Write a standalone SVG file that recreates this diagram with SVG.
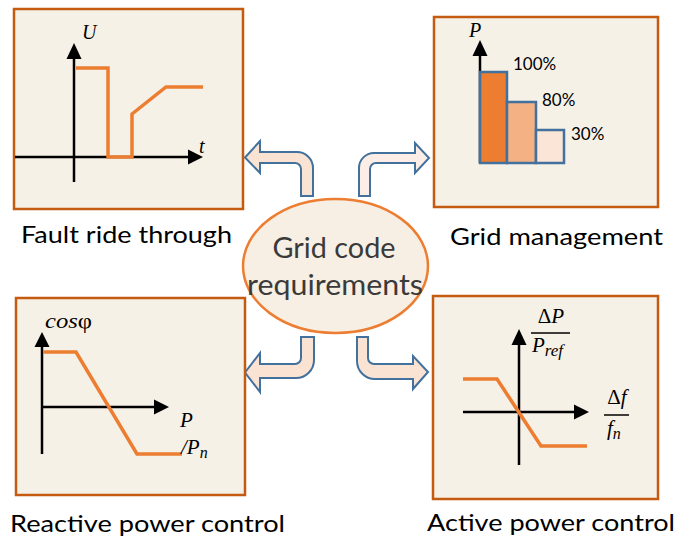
<svg xmlns="http://www.w3.org/2000/svg" width="689" height="538" viewBox="0 0 689 538">
<style>
.box{fill:#F6F1E7;stroke:#C55A11;stroke-width:2.5}
.ax{stroke:#000;stroke-width:2.5;fill:none}
.hd{fill:#000}
.crv{fill:none;stroke:#ED7D31;stroke-width:3.5;stroke-linejoin:miter}
.m{font-family:"Liberation Serif","DejaVu Serif",serif;font-style:italic;fill:#000}
.lbl{font-family:Lato,"Liberation Sans",sans-serif;font-size:24px;fill:#000}
.pct{font-family:Lato,"Liberation Sans",sans-serif;font-size:17px;fill:#000}
.arr{stroke:#41719C;stroke-width:2;stroke-linejoin:miter}
</style>
<rect width="689" height="538" fill="#fff"/>
<g id="connectors">
<path class="arr" fill="#FBE3D4" d="M301,196 L301,169 A6,6 0 0 0 295,163 L260,163 L260,173 L245,157.5 L260,141 L260,152 L297,152 A16,16 0 0 1 313,168 L313,196 Z"/>
<path class="arr" fill="#FCEEE6" d="M370,196 L370,169 A6,6 0 0 1 376,163 L415,163 L415,173 L429,158 L415,143 L415,153 L374,153 A15,15 0 0 0 359,168 L359,196 Z"/>
<path class="arr" fill="#FBE3D4" d="M301,337 L301,358 A6,6 0 0 1 295,364 L260,364 L260,353 L245,372.5 L260,392 L260,378 L296,378 A18,18 0 0 0 314,360 L314,337 Z"/>
<path class="arr" fill="#FBE3D4" d="M368,337 L368,358 A6,6 0 0 0 374,364 L413,364 L413,356 L428,372 L413,389 L413,379 L375,379 A18,18 0 0 1 357,361 L357,337 Z"/>
</g>
<g id="fault-ride-through">
<rect class="box" x="14" y="9" width="229" height="200"/>
<line class="ax" x1="74" y1="182" x2="74" y2="56"/>
<polygon class="hd" points="74,43 66.5,59 81.5,59"/>
<line class="ax" x1="15" y1="157" x2="190" y2="157"/>
<polygon class="hd" points="203,157 188,149.5 188,164.5"/>
<polyline class="crv" points="76,68 108,68 108,157 132,157 132,114 166,87 203,87"/>
<text class="m" x="82" y="39" font-size="20">U</text>
<text class="m" x="199" y="153" font-size="20">t</text>
<text class="lbl" x="21" y="243" textLength="211" lengthAdjust="spacingAndGlyphs">Fault ride through</text>
</g>
<g id="grid-management">
<rect class="box" x="434" y="17" width="224" height="190"/>
<line class="ax" x1="480" y1="163" x2="480" y2="52"/>
<polygon class="hd" points="480,40 472.5,56 487.5,56"/>
<rect x="480" y="72" width="27" height="91" fill="#ED7D31" stroke="#41719C" stroke-width="2.5"/>
<rect x="507" y="102" width="29" height="61" fill="#F4B183" stroke="#41719C" stroke-width="2.5"/>
<rect x="536" y="130" width="28" height="33" fill="#FBE5D6" stroke="#41719C" stroke-width="2.5"/>
<text class="m" x="469" y="37" font-size="20">P</text>
<text class="pct" x="513" y="70">100%</text>
<text class="pct" x="542" y="106">80%</text>
<text class="pct" x="571" y="140">30%</text>
<text class="lbl" x="450" y="245" textLength="213" lengthAdjust="spacingAndGlyphs">Grid management</text>
</g>
<g id="reactive-power-control">
<rect class="box" x="16" y="298" width="229" height="197"/>
<line class="ax" x1="42" y1="454" x2="42" y2="343"/>
<polygon class="hd" points="42,332 34.5,347 49.5,347"/>
<line class="ax" x1="42" y1="407" x2="156" y2="407"/>
<polygon class="hd" points="169,407 154,399.5 154,414.5"/>
<polyline class="crv" points="43,352 76,352 137,454 182,454"/>
<text class="m" x="45" y="328" font-size="21" textLength="47" lengthAdjust="spacingAndGlyphs">cos<tspan font-style="normal">φ</tspan></text>
<text class="m" x="180" y="427" font-size="21">P</text>
<text class="m" x="181" y="454" font-size="21">/P<tspan font-size="16" dy="4">n</tspan></text>
<text class="lbl" x="10" y="532" textLength="275" lengthAdjust="spacingAndGlyphs">Reactive power control</text>
</g>
<g id="active-power-control">
<rect class="box" x="433" y="296" width="225" height="203"/>
<line class="ax" x1="519" y1="465" x2="519" y2="341"/>
<polygon class="hd" points="519,329 511.5,345 526.5,345"/>
<line class="ax" x1="463" y1="412" x2="576" y2="412"/>
<polygon class="hd" points="589,412 574,404.5 574,419.5"/>
<polyline class="crv" points="463,379 497,379 541,446 587,446"/>
<text class="m" x="551" y="323" font-size="21" text-anchor="middle"><tspan font-style="normal">Δ</tspan>P</text>
<line x1="531" y1="333" x2="570" y2="333" stroke="#000" stroke-width="1.5"/>
<text class="m" x="532" y="352" font-size="21">P<tspan font-size="17" dy="4">ref</tspan></text>
<text class="m" x="617" y="404" font-size="21" text-anchor="middle"><tspan font-style="normal">Δ</tspan>f</text>
<line x1="604" y1="415" x2="629" y2="415" stroke="#000" stroke-width="1.5"/>
<text class="m" x="607" y="435" font-size="21">f<tspan font-size="16" dy="4">n</tspan></text>
<text class="lbl" x="427" y="531" textLength="248" lengthAdjust="spacingAndGlyphs">Active power control</text>
</g>
<g id="grid-code-requirements">
<ellipse cx="335.5" cy="266" rx="92.5" ry="67" fill="#F7EFE3" stroke="#ED7D31" stroke-width="2.5"/>
<text x="334" y="258" font-family="Lato,'Liberation Sans',sans-serif" font-size="28" fill="#3A3A3A" text-anchor="middle" textLength="123" lengthAdjust="spacingAndGlyphs">Grid code</text>
<text x="335" y="295" font-family="Lato,'Liberation Sans',sans-serif" font-size="28" fill="#3A3A3A" text-anchor="middle" textLength="176" lengthAdjust="spacingAndGlyphs">requirements</text>
</g>
</svg>
